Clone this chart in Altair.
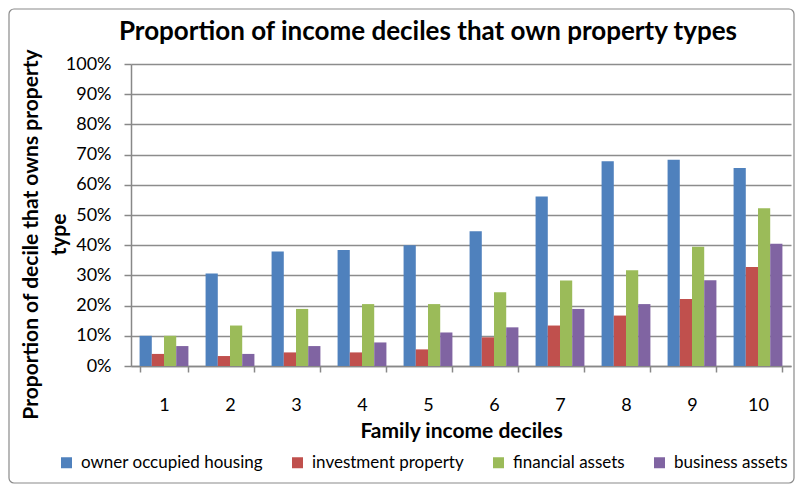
import altair as alt
import pandas as pd

deciles = [1, 2, 3, 4, 5, 6, 7, 8, 9, 10]
series_names = ["owner occupied housing", "investment property", "financial assets", "business assets"]
owner = [10.0, 30.6, 37.9, 38.4, 40.0, 44.6, 56.1, 67.8, 68.3, 65.6]
investment = [4.0, 3.3, 4.5, 4.5, 5.5, 9.5, 13.4, 16.7, 22.2, 32.8]
financial = [10.0, 13.4, 18.9, 20.5, 20.5, 24.4, 28.3, 31.7, 39.5, 52.2]
business = [6.6, 4.0, 6.6, 7.8, 11.1, 12.8, 18.9, 20.5, 28.4, 40.5]
colors = ["#4F81BD", "#C0504D", "#9BBB59", "#8064A2"]
y_ticks = [i / 10 for i in range(11)]

rows = []
for name, vals in zip(series_names, [owner, investment, financial, business]):
    for d, v in zip(deciles, vals):
        rows.append({"decile": str(d), "series": name, "value": v / 100})
df = pd.DataFrame(rows)

FONT = "Lato"
W, H = 660, 302
AXC = "#888888"

bars = alt.Chart(df).mark_bar().encode(
    x=alt.X("decile:N", sort=[str(d) for d in deciles],
            scale=alt.Scale(paddingInner=0.26, paddingOuter=0.13),
            axis=alt.Axis(title="Family income deciles", labelAngle=0, tickBand="extent",
                          tickSize=6, labelPadding=24, titlePadding=6,
                          labelFontSize=18, titleFontSize=21, titleFontWeight="bold",
                          domainColor=AXC, tickColor=AXC, domainWidth=1.5, tickWidth=1.5,
                          labelColor="black", titleColor="black")),
    xOffset=alt.XOffset("series:N", sort=series_names, scale=alt.Scale(paddingInner=0, paddingOuter=0)),
    y=alt.Y("value:Q", scale=alt.Scale(domain=[0, 1], nice=False),
            axis=alt.Axis(title=["Proportion of decile that owns property", "type"],
                          values=y_ticks, format=".0%", tickSize=7, labelPadding=13,
                          titleX=-100, titleY=170, titleBaseline="middle", titleAlign="center",
                          titleAngle=270, titleLineHeight=28,
                          labelFontSize=18, titleFontSize=21,
                          titleFontWeight="bold", gridColor="#8c8c8c", gridWidth=1.5,
                          domainColor=AXC, tickColor=AXC, domainWidth=1.5, tickWidth=1.5,
                          labelColor="black", titleColor="black")),
    color=alt.Color("series:N", sort=series_names,
                    scale=alt.Scale(domain=series_names, range=colors),
                    legend=alt.Legend(title=None, orient="none", legendX=-73, legendY=390,
                                      direction="horizontal", columns=4, symbolType="square",
                                      symbolSize=121, symbolStrokeWidth=0, labelFontSize=17,
                                      labelOffset=6, columnPadding=26, labelColor="black",
                                      labelLimit=300)),
)

border = alt.Chart(pd.DataFrame({"a": [0]})).mark_rect(
    fill=None, stroke="#8a8a8a", strokeWidth=1.2, cornerRadius=5
).encode(x=alt.value(-122), x2=alt.value(W + 3), y=alt.value(-55), y2=alt.value(H + 117))

chart = alt.layer(border, bars).properties(
    width=W, height=H,
    autosize=alt.AutoSizeParams(type="none"),
    padding={"left": 123, "top": 56, "right": 4, "bottom": 118},
    title=alt.TitleParams("Proportion of income deciles that own property types",
                          fontSize=26, fontWeight="bold", anchor="middle", frame="group",
                          dx=-33, offset=-63, baseline="bottom", color="black", font=FONT),
).configure(font=FONT).configure_view(stroke=None).configure_axis(
    labelFont=FONT, titleFont=FONT
).configure_legend(labelFont=FONT)

chart.save("out.html", embed_options={"renderer": "svg", "actions": False})
